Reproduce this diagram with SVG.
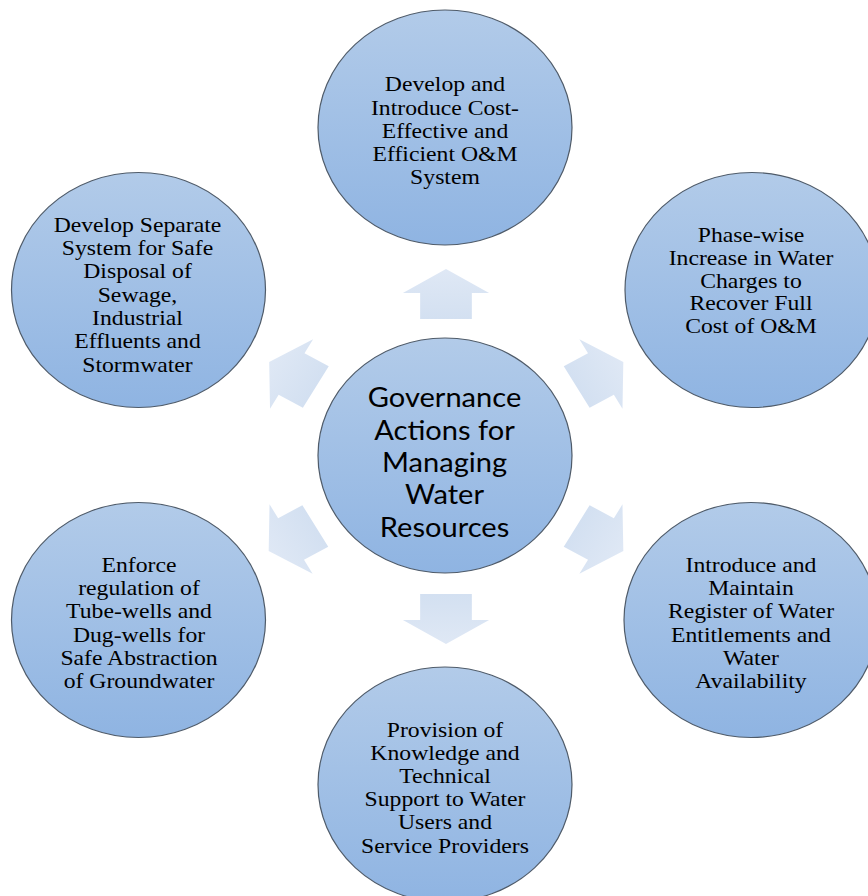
<svg xmlns="http://www.w3.org/2000/svg" width="868" height="896" viewBox="0 0 868 896">
<defs>
<linearGradient id="cg" x1="0" y1="0" x2="0" y2="1">
<stop offset="0" stop-color="#b2cbe9"/>
<stop offset="1" stop-color="#8fb4e2"/>
</linearGradient>
<linearGradient id="ag" x1="0" y1="0" x2="0" y2="1">
<stop offset="0" stop-color="#dfe8f5"/>
<stop offset="1" stop-color="#d3e0f1"/>
</linearGradient>
<path id="arrow" d="M0,-25 L40,-1 L24,-1 L24,25 L-24,25 L-24,-1 L-40,-1 Z" fill="url(#ag)"/>
</defs>
<style>
.c{fill:url(#cg);stroke:#4f5b69;stroke-width:1.2}
.t{font-family:"Liberation Serif","Times New Roman",serif;font-size:22px;fill:#000;text-anchor:middle}
.m{font-family:Lato,"Liberation Sans",sans-serif;font-size:27px;fill:#000;text-anchor:middle}
</style>
<rect width="868" height="896" fill="#fff"/>
<g id="connectors">
<use href="#arrow" transform="translate(446 294) scale(1.077 1)"/>
<use href="#arrow" transform="translate(446 619) scale(1.077 1) rotate(180)"/>
<use href="#arrow" transform="translate(292.5 374.5) scale(1.077 1) rotate(-60)"/>
<use href="#arrow" transform="translate(600 374.5) scale(1.077 1) rotate(60)"/>
<use href="#arrow" transform="translate(292 538.5) scale(1.077 1) rotate(-120)"/>
<use href="#arrow" transform="translate(600 538.5) scale(1.077 1) rotate(120)"/>
</g>
<g id="center">
<ellipse class="c" cx="445" cy="455.5" rx="127" ry="117.5"/>
<g transform="translate(444.5 0) scale(1.077 1)">
<text class="m" x="0" y="407.3">Governance</text>
<text class="m" x="0" y="439.6">Actions for</text>
<text class="m" x="0" y="472">Managing</text>
<text class="m" x="0" y="504.5">Water</text>
<text class="m" x="0" y="537">Resources</text>
</g>
</g>
<g id="top">
<ellipse class="c" cx="445" cy="127.5" rx="127" ry="117.5"/>
<g transform="translate(445 0) scale(1.077 1)">
<text class="t" x="0" y="91.5">Develop and</text>
<text class="t" x="0" y="114.7">Introduce Cost-</text>
<text class="t" x="0" y="137.9">Effective and</text>
<text class="t" x="0" y="161.1">Efficient O&amp;M</text>
<text class="t" x="0" y="184.3">System</text>
</g>
</g>
<g id="topright">
<ellipse class="c" cx="752" cy="290" rx="127" ry="117.5"/>
<g transform="translate(751 0) scale(1.077 1)">
<text class="t" x="0" y="241.7">Phase-wise</text>
<text class="t" x="0" y="264.7">Increase in Water</text>
<text class="t" x="0" y="287.7">Charges to</text>
<text class="t" x="0" y="310.2">Recover Full</text>
<text class="t" x="0" y="332.7">Cost of O&amp;M</text>
</g>
</g>
<g id="bottomright">
<ellipse class="c" cx="751" cy="620" rx="127" ry="117.5"/>
<g transform="translate(751 0) scale(1.077 1)">
<text class="t" x="0" y="571.7">Introduce and</text>
<text class="t" x="0" y="595">Maintain</text>
<text class="t" x="0" y="618.3">Register of Water</text>
<text class="t" x="0" y="641.7">Entitlements and</text>
<text class="t" x="0" y="665">Water</text>
<text class="t" x="0" y="688">Availability</text>
</g>
</g>
<g id="bottom">
<ellipse class="c" cx="445" cy="784.5" rx="127" ry="117.5"/>
<g transform="translate(445 0) scale(1.077 1)">
<text class="t" x="0" y="736.7">Provision of</text>
<text class="t" x="0" y="760">Knowledge and</text>
<text class="t" x="0" y="783">Technical</text>
<text class="t" x="0" y="806">Support to Water</text>
<text class="t" x="0" y="829.3">Users and</text>
<text class="t" x="0" y="852.7">Service Providers</text>
</g>
</g>
<g id="bottomleft">
<ellipse class="c" cx="138.5" cy="620" rx="127" ry="117.5"/>
<g transform="translate(139 0) scale(1.077 1)">
<text class="t" x="0" y="571.7">Enforce</text>
<text class="t" x="0" y="595">regulation of</text>
<text class="t" x="0" y="618.3">Tube-wells and</text>
<text class="t" x="0" y="641.7">Dug-wells for</text>
<text class="t" x="0" y="665">Safe Abstraction</text>
<text class="t" x="0" y="688.3">of Groundwater</text>
</g>
</g>
<g id="topleft">
<ellipse class="c" cx="138.5" cy="290" rx="127" ry="117.5"/>
<g transform="translate(137.5 0) scale(1.077 1)">
<text class="t" x="0" y="231.7">Develop Separate</text>
<text class="t" x="0" y="255">System for Safe</text>
<text class="t" x="0" y="278.3">Disposal of</text>
<text class="t" x="0" y="301.7">Sewage,</text>
<text class="t" x="0" y="325">Industrial</text>
<text class="t" x="0" y="348.3">Effluents and</text>
<text class="t" x="0" y="371.7">Stormwater</text>
</g>
</g>
</svg>
